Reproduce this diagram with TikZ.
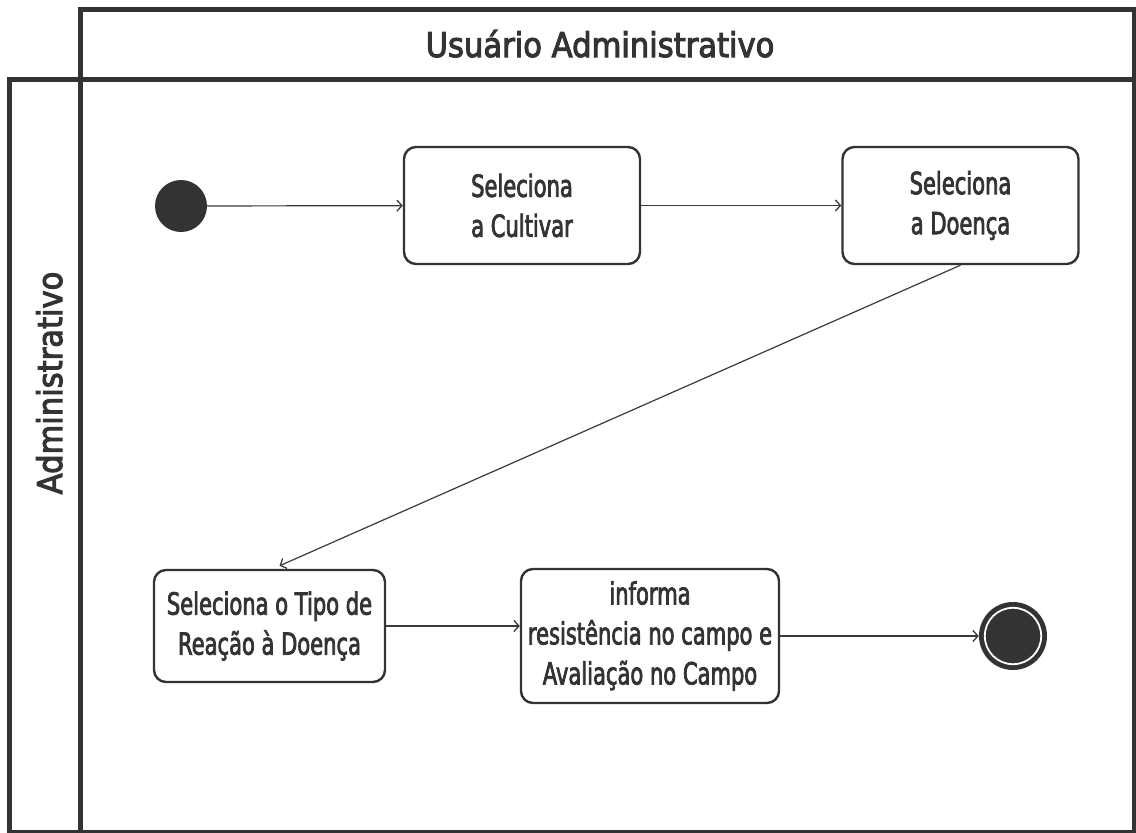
\documentclass[tikz,border=0pt]{standalone}
\usepackage{fontspec}
\usetikzlibrary{arrows.meta,calc}
\newfontfamily\headfont{DejaVu Sans}[FakeStretch=0.90,FakeBold=3]
\newfontfamily\boxfont{DejaVu Sans}[FakeStretch=0.69,FakeBold=2.4]
\definecolor{ink}{HTML}{333333}
\definecolor{wire}{HTML}{3A3A3A}
\tikzset{
  x=1pt, y=-1pt,
  lane/.style={draw=ink, line width=5pt},
  act/.style={draw=ink, line width=2.4pt, rounded corners=12pt, align=center,
    inner sep=0pt, text=ink, font=\boxfont\fontsize{30.5}{40}\selectfont},
  flow/.style={draw=wire, line width=1.2pt, -{Straight Barb[length=5pt,width=11pt,line width=1.3pt]}},
  headtext/.style={text=ink, inner sep=0pt, font=\headfont\fontsize{34}{40}\selectfont},
  dot/.style={circle, fill=ink, inner sep=0pt}
}
\begin{document}
\begin{tikzpicture}
\useasboundingbox (0,0) rectangle (1136,833);
\fill[white] (0,0) rectangle (1136,833);

% swimlane frame: header band, lane header column and activity area
\draw[lane] (80,9) rectangle (1134,832);
\draw[lane] (80,79.5) -- (1134,79.5);
\draw[lane] (9,79.5) rectangle (80,832);
\node[headtext, anchor=base] (pool) at (600,57) {Usuário Administrativo};
\node[headtext, anchor=base, rotate=90] (role) at (62,383) {Administrativo};

% initial and final states
\node[dot, minimum size=52pt] (start) at (181,206) {};
\node[dot, minimum size=68pt] (stop) at (1013,636) {};
\draw[white, line width=1.8pt] (stop.center) circle (28.2);

% activities
\node[act, minimum width=236pt, minimum height=117pt] (b1) at (522,205.5) {Seleciona\\a Cultivar};
\node[act, minimum width=236pt, minimum height=117pt] (b2) at (960.5,205.5) {Seleciona\\a Doença};
\node[act, minimum width=231pt, minimum height=112pt] (b3) at (269.5,626) {Seleciona o Tipo de\\Reação à Doença};
\node[act, minimum width=258pt, minimum height=134pt] (b4) at (650,636) {informa\\resistência no campo e\\Avaliação no Campo};

% control flow
\draw[flow] (start) -- (b1);
\draw[flow] (b1) -- (b2);
\draw[flow] (b2.south) -- ($(b3.north)+(10,-3)$);
\draw[flow] (b3.east) -- (b3.east -| b4.west);
\draw[flow] (b4) -- (stop);
\end{tikzpicture}
\end{document}
